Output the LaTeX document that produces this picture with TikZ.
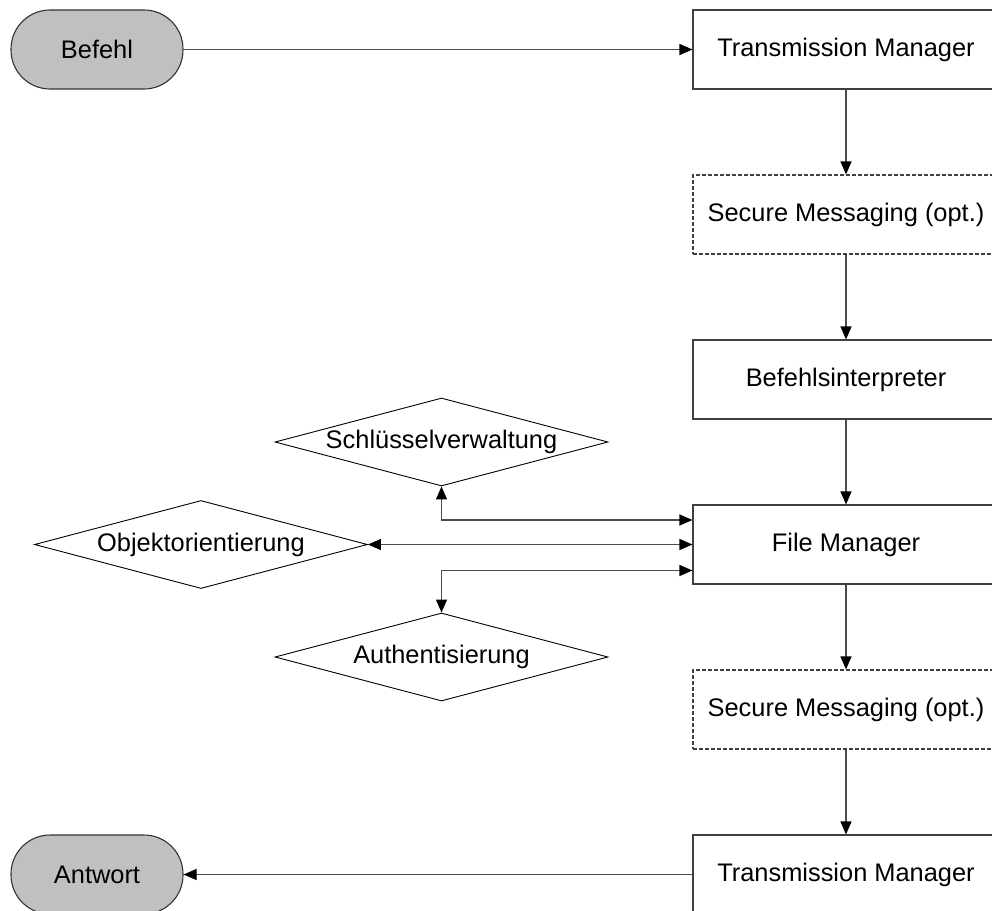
\documentclass[tikz,border=0pt]{standalone}
\usepackage{fontspec}
\setmainfont{Liberation Sans}
\usetikzlibrary{arrows.meta,shapes.geometric}
\definecolor{termfill}{HTML}{C0C0C0}
\begin{document}
\begin{tikzpicture}[x=1pt,y=-1pt,
  every node/.style={font=\fontsize{25.4}{30}\selectfont, inner sep=0pt},
  tip/.tip={Triangle[length=13pt,width=11pt,color=black]},
  stage/.style={draw=black!75, line width=1.1pt, minimum width=306pt, minimum height=79pt, fill=white},
  optstage/.style={stage, dash pattern=on 4pt off 2pt},
  terminal/.style={draw=black!80, line width=1.1pt, fill=termfill, rounded corners=39pt, minimum width=172pt, minimum height=79pt},
  decision/.style={draw=black, line width=0.9pt, diamond, aspect=3.8, minimum width=333pt, minimum height=88pt},
  flow/.style={draw=black!70, line width=1.1pt, -tip},
  link/.style={draw=black!70, line width=1.1pt, tip-tip}
]
\useasboundingbox (0,0) rectangle (992,910);
\clip (0,0) rectangle (992,910);

% processing chain
\node[terminal] (befehl)  at (97,49.5)   {Befehl};
\node[stage]    (tm1)     at (846,49.5)  {Transmission Manager};
\node[optstage] (sm1)     at (846,214.5) {Secure Messaging (opt.)};
\node[stage]    (bi)      at (846,379.5) {Befehlsinterpreter};
\node[stage]    (fm)      at (846,544.5) {File Manager};
\node[optstage] (sm2)     at (846,709.5) {Secure Messaging (opt.)};
\node[stage]    (tm2)     at (846,874.5) {Transmission Manager};
\node[terminal] (antwort) at (97,874.5)  {Antwort};

% services used by the file manager
\node[decision] (sv) at (441.5,442)  {Schlüsselverwaltung};
\node[decision] (oo) at (201,544.5)  {Objektorientierung};
\node[decision] (au) at (441.5,657)  {Authentisierung};

% connectors
\draw[flow] (befehl) -- (tm1);
\draw[flow] (tm1) -- (sm1);
\draw[flow] (sm1) -- (bi);
\draw[flow] (bi) -- (fm);
\draw[flow] (fm) -- (sm2);
\draw[flow] (sm2) -- (tm2);
\draw[flow] (tm2) -- (antwort);

\draw[link] (sv.south) |- ([yshift=24.5pt]fm.west);
\draw[link] (oo.east) -- (fm.west);
\draw[link] ([yshift=-26pt]fm.west) -| (au.north);
\end{tikzpicture}
\end{document}
